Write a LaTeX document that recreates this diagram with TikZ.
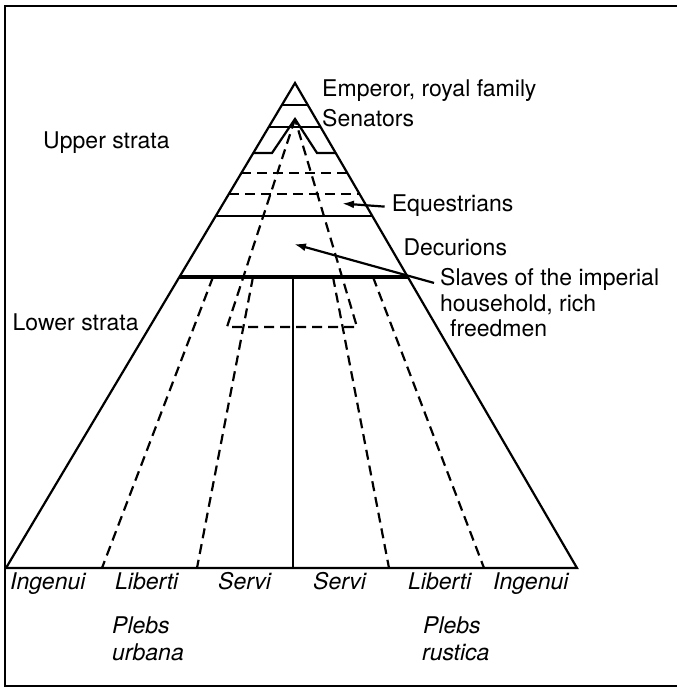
\documentclass[tikz,border=0pt]{standalone}
\usepackage{fontspec}
\setmainfont{TeX Gyre Heros}
\usetikzlibrary{calc,arrows.meta}
\begin{document}
\begin{tikzpicture}[x=1pt,y=-1pt,
  lbl/.style={anchor=base west, inner sep=0pt, font=\fontsize{23}{27}\selectfont},
  ilbl/.style={anchor=base west, inner sep=0pt, font=\fontsize{23}{27}\selectfont\itshape},
  solidln/.style={line width=2.2pt},
  heavyln/.style={line width=3.6pt},
  dashln/.style={line width=2.2pt, dash pattern=on 10pt off 6pt},
  framel/.style={line width=2.8pt},
  arr/.style={line width=2.2pt, -{Latex[length=12pt,width=8pt]}}
]
\useasboundingbox (0,0) rectangle (677,689);
% frame (right side cut off)
\draw[framel] (677,6) -- (5,6) -- (5,686) -- (677,686);

% outer triangle
\coordinate (A) at (295,83);
\coordinate (BL) at (6,568);
\coordinate (BR) at (577,568);
\draw[solidln, line join=miter] (BL) -- (A) -- (BR) -- cycle;

% strata lines
\draw[solidln] ($(A)!0.0454!(BL)$) -- ($(A)!0.0454!(BR)$);
\draw[solidln] ($(A)!0.0907!(BL)$) -- ($(A)!0.0907!(BR)$);
% inner peak (senators)
\coordinate (P) at (295,119);
\draw[solidln, line join=miter] ($(A)!0.1443!(BL)$) -- (272,153) -- (P) -- (317,153) -- ($(A)!0.1443!(BR)$);
\draw[dashln] ($(A)!0.1856!(BL)$) -- ($(A)!0.1856!(BR)$);
\draw[dashln] ($(A)!0.2289!(BL)$) -- ($(A)!0.2289!(BR)$);
\draw[solidln] ($(A)!0.2742!(BL)$) -- ($(A)!0.2742!(BR)$);
\draw[heavyln] ($(A)!0.4!(BL)$) -- ($(A)!0.4!(BR)$);

% dashed triangle of imperial slaves / rich freedmen
\coordinate (DL) at (227,327);
\coordinate (DR) at (357,327);
\draw[dashln] (P) -- (DL) -- (DR) -- (P);

% vertical divisions of lower strata
\draw[dashln] (213,277) -- (102,568);
\draw[dashln] (253,277) -- (197,568);
\draw[solidln] (293,278) -- (293,568);
\draw[dashln] (333,277) -- (389,568);
\draw[dashln] (373,277) -- (484,568);

% labels
\node[lbl] (emperor) at (322,96.7) {Emperor, royal family};
\node[lbl] (senators) at (322,126.7) {Senators};
\node[lbl] (upper) at (43,148.3) {Upper strata};
\node[lbl] (lower) at (12.5,330) {Lower strata};
\node[lbl] (equ) at (391.7,211.5) {Equestrians};
\node[lbl] (decur) at (403.3,255) {Decurions};
\node[lbl] (slaves1) at (440,285) {Slaves of the imperial};
\node[lbl] (slaves2) at (440,311.7) {household, rich};
\node[lbl] (slaves3) at (450,336.7) {freedmen};

% arrows
\coordinate (equtip) at (342,203.5);
\coordinate (slvtip) at (294,244);
\draw[arr] ([xshift=-7pt, yshift=-1pt]equ.west) -- (equtip);
\draw[arr] ([xshift=-6pt, yshift=-4pt]slaves1.west) -- (slvtip);

% bottom labels
\node[ilbl] (ing1) at (10,589) {Ingenui};
\node[ilbl] (lib1) at (115,589) {Liberti};
\node[ilbl] (ser1) at (218,589) {Servi};
\node[ilbl] (ser2) at (313,589) {Servi};
\node[ilbl] (lib2) at (408,589) {Liberti};
\node[ilbl] (ing2) at (493,589) {Ingenui};
\node[ilbl] (pu1) at (112,633) {Plebs};
\node[ilbl] (pu2) at (112,660) {urbana};
\node[ilbl] (pr1) at (423,633) {Plebs};
\node[ilbl] (pr2) at (422,660) {rustica};
\end{tikzpicture}
\end{document}
